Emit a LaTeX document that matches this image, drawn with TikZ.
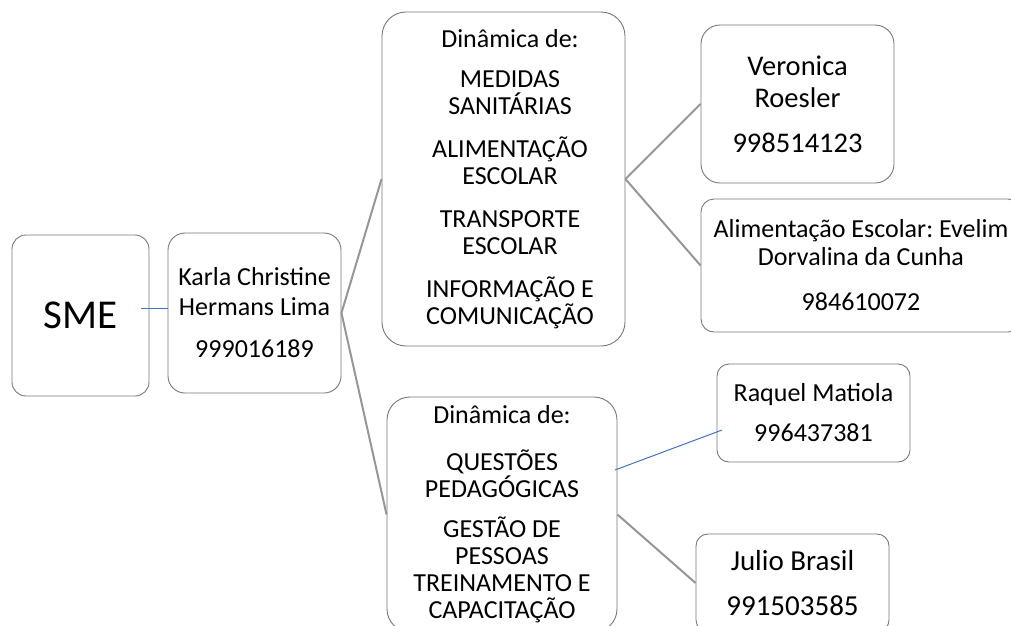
\documentclass[tikz,border=0pt]{standalone}
\usepackage{fontspec}
\setmainfont{Carlito}
\frenchspacing
\definecolor{boxline}{RGB}{120,120,120}
\definecolor{conn}{RGB}{150,150,150}
\definecolor{blueln}{RGB}{68,114,196}
\newcommand\tpush{\hspace*{13pt}}
\begin{document}
\begin{tikzpicture}[x=1pt,y=-1pt,
  box/.style={draw=boxline, line width=0.9pt, fill=white, inner sep=0pt, align=center},
  gline/.style={draw=conn, line width=2pt},
  bline/.style={draw=blueln, line width=1pt}]
\useasboundingbox (0,0) rectangle (1011,625);

\node[box, minimum width=137pt, minimum height=161pt, rounded corners=14pt,
      font=\fontsize{41}{49}\selectfont] (sme) at (80.5,315.5) {SME};

\node[box, minimum width=173pt, minimum height=160pt, rounded corners=17pt,
      font=\fontsize{26}{30}\selectfont] (karla) at (254.5,313)
  {Karla Christine\\Hermans Lima\\[12pt]999016189};

\node[box, minimum width=243pt, minimum height=334pt, rounded corners=24pt,
      font=\fontsize{26}{26.5}\selectfont] (top) at (503.5,179)
  {\tpush Dinâmica de:\\[13.5pt]\tpush MEDIDAS\\\tpush SANITÁRIAS\\[17pt]\tpush ALIMENTAÇÃO\\\tpush ESCOLAR\\[17pt]\tpush TRANSPORTE\\\tpush ESCOLAR\\[17pt]\tpush INFORMAÇÃO E\\\tpush COMUNICAÇÃO};

\node[box, minimum width=230pt, minimum height=235pt, rounded corners=23pt,
      font=\fontsize{26}{27}\selectfont] (bottom) at (502,514.5)
  {Dinâmica de:\\[20pt]QUESTÕES\\PEDAGÓGICAS\\[13pt]GESTÃO DE\\PESSOAS\\TREINAMENTO E\\CAPACITAÇÃO};

\node[box, minimum width=193pt, minimum height=158pt, rounded corners=19pt,
      font=\fontsize{28.5}{32}\selectfont] (veronica) at (797.5,104)
  {Veronica\\Roesler\\[13pt]998514123};

\node[box, minimum width=320pt, minimum height=133pt, rounded corners=13pt,
      font=\fontsize{26}{28}\selectfont] (alim) at (861,265.5)
  {Alimentação Escolar: Evelim\\Dorvalina da Cunha\\[17pt]984610072};

\node[box, minimum width=193pt, minimum height=98pt, rounded corners=12pt,
      font=\fontsize{26}{40}\selectfont] (raquel) at (813.5,413)
  {Raquel Matiola\\996437381};

\node[box, minimum width=193pt, minimum height=98pt, rounded corners=12pt,
      font=\fontsize{29}{45}\selectfont] (julio) at (792.5,583)
  {Julio Brasil\\991503585};

\coordinate (smeout) at (141,308);
\coordinate (karlain) at (168,308);
\coordinate (botout) at (615,470);
\coordinate (raqin) at (722,430);

\draw[bline] (smeout) -- (karlain);
\draw[gline] (karla.east) -- (top.west);
\draw[gline] (karla.east) -- (bottom.west);
\draw[gline] (top.east) -- (veronica.west);
\draw[gline] (top.east) -- (alim.west);
\draw[bline] (botout) -- (raqin);
\draw[gline] (bottom.east) -- (julio.west);
\end{tikzpicture}
\end{document}
